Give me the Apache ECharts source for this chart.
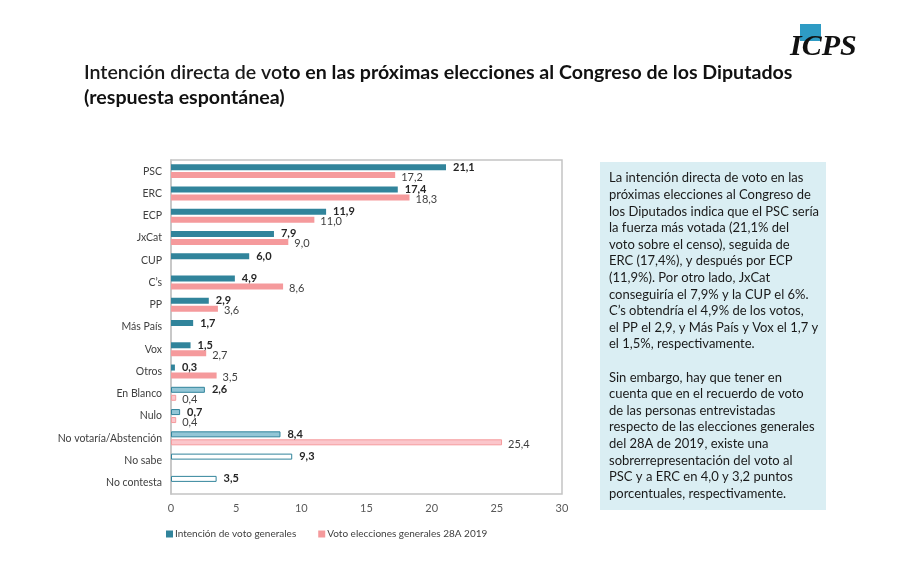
<!DOCTYPE html>
<html><head><meta charset="utf-8">
<script src="https://cdn.jsdelivr.net/npm/echarts/dist/echarts.min.js"></script>
<style>html,body{margin:0;padding:0;background:#fff}#c{width:900px;height:573px}</style>
</head><body><div id="c"></div>
<script>
const categories = ['PSC','ERC','ECP','JxCat','CUP','C\u2019s','PP','Más País','Vox','Otros','En Blanco','Nulo','No votaría/Abstención','No sabe','No contesta'];
const intencion = [21.1,17.4,11.9,7.9,6.0,4.9,2.9,1.7,1.5,0.3,2.6,0.7,8.4,9.3,3.5];
const voto28A = [17.2,18.3,11.0,9.0,null,8.6,3.6,null,2.7,3.5,0.4,0.4,25.4,null,null];
const seriesNames = ['Intención de voto generales','Voto elecciones generales 28A 2019'];
const xTicks = [0,5,10,15,20,25,30];
const titleA = 'Intención directa de vo';
const titleB = 'to en las próximas elecciones al Congreso de los Diputados';
const titleLine2 = '(respuesta espontánea)';
const noteLines = [
'La intención directa de voto en las',
'próximas elecciones al Congreso de',
'los Diputados indica que el PSC sería',
'la fuerza más votada (21,1% del',
'voto sobre el censo), seguida de',
'ERC (17,4%), y después por ECP',
'(11,9%). Por otro lado, JxCat',
'conseguiría el 7,9% y la CUP el 6%.',
'C\u2019s obtendría el 4,9% de los votos,',
'el PP el 2,9, y Más País y Vox el 1,7 y',
'el 1,5%, respectivamente.',
'',
'Sin embargo, hay que tener en',
'cuenta que en el recuerdo de voto',
'de las personas entrevistadas',
'respecto de las elecciones generales',
'del 28A de 2019, existe una',
'sobrerrepresentación del voto al',
'PSC y a ERC en 4,0 y 3,2 puntos',
'porcentuales, respectivamente.'
];
const lightCats = ['En Blanco','Nulo','No votaría/Abstención'];
const hollowCats = ['No sabe','No contesta'];

const BLUE = '#31849B', BLUE_L = '#93C6D6', PINK = '#F59A9C', PINK_L = '#FBC6CB';
const FONT = 'Lato, "Noto Sans", sans-serif';

function blueItem(v, i) {
  const c = categories[i];
  let st = { color: BLUE };
  if (lightCats.includes(c)) st = { color: BLUE_L, borderColor: BLUE, borderWidth: 1 };
  if (hollowCats.includes(c)) st = { color: '#ffffff', borderColor: BLUE, borderWidth: 1 };
  return { value: v, itemStyle: st };
}
function pinkItem(v, i) {
  const c = categories[i];
  let st = { color: PINK };
  if (lightCats.includes(c)) st = { color: PINK_L, borderColor: PINK, borderWidth: 1 };
  return { value: v, itemStyle: st };
}
const fmt = p => (p.value == null ? '' : p.value.toFixed(1).replace('.', ','));

const chart = echarts.init(document.getElementById('c'), null, { renderer: 'canvas' });
chart.setOption({
  backgroundColor: '#ffffff',
  animation: false,
  textStyle: { fontFamily: FONT },
  grid: { left: 171, right: 338, top: 160, bottom: 79, show: true, borderColor: '#c4c4c4', borderWidth: 1.5, containLabel: false },
  xAxis: {
    type: 'value', min: 0, max: 30, interval: 5,
    axisLine: { show: false }, axisTick: { show: false }, splitLine: { show: false },
    axisLabel: { color: '#595959', fontSize: 11, margin: 9, fontFamily: FONT, formatter: v => xTicks.includes(v) ? String(v) : '' }
  },
  yAxis: {
    type: 'category', data: categories, inverse: true,
    axisTick: { show: false },
    axisLine: { show: true, lineStyle: { color: '#c4c4c4', width: 1.5 } },
    axisLabel: { color: '#404040', fontSize: 10.5, margin: 9, fontFamily: FONT }
  },
  legend: {
    left: 161, top: 524, itemWidth: 7, itemHeight: 7, itemGap: 22, icon: 'rect',
    textStyle: { color: '#404040', fontSize: 10, fontFamily: FONT, padding: [0, 0, 0, -3] },
    data: seriesNames
  },
  series: [
    {
      name: seriesNames[0], type: 'bar', barWidth: 6, barGap: '33%',
      itemStyle: { color: BLUE },
      data: intencion.map(blueItem),
      label: { show: true, position: 'right', distance: 7, offset: [0, 0], color: '#262626', fontWeight: 'bold', fontSize: 11, fontFamily: FONT, formatter: fmt }
    },
    {
      name: seriesNames[1], type: 'bar', barWidth: 6,
      itemStyle: { color: PINK },
      data: voto28A.map(pinkItem),
      label: { show: true, position: 'right', distance: 6, offset: [0, 2], color: '#404040', fontSize: 11, fontFamily: FONT, formatter: fmt }
    }
  ],
  graphic: [
    { type: 'rect', shape: { x: 800, y: 24, width: 21, height: 17 }, style: { fill: '#2E9BC4' } },
    { type: 'text', left: 790, top: 32, style: { text: 'ICPS', font: 'italic bold 30px "Liberation Serif", serif', fill: '#111111' } },
    { type: 'text', left: 84, top: 63, style: {
        text: '{a|' + titleA + '}{b|' + titleB + '}',
        rich: {
          a: { fontFamily: FONT, fontSize: 19.6, fontWeight: 600, fill: '#1a1a1a' },
          b: { fontFamily: FONT, fontSize: 19.6, fontWeight: 'bold', fill: '#111111' }
        } } },
    { type: 'text', left: 84, top: 88, style: { text: titleLine2, font: 'bold 19.6px ' + FONT, fill: '#111111' } },
    { type: 'rect', shape: { x: 600, y: 162, width: 226, height: 348 }, style: { fill: '#DAEEF3' } },
    { type: 'text', left: 609, top: 170, style: { text: noteLines.join('\n'), font: '13px ' + FONT, lineHeight: 16.6, fill: '#1a1a1a' } }
  ]
});
</script></body></html>
